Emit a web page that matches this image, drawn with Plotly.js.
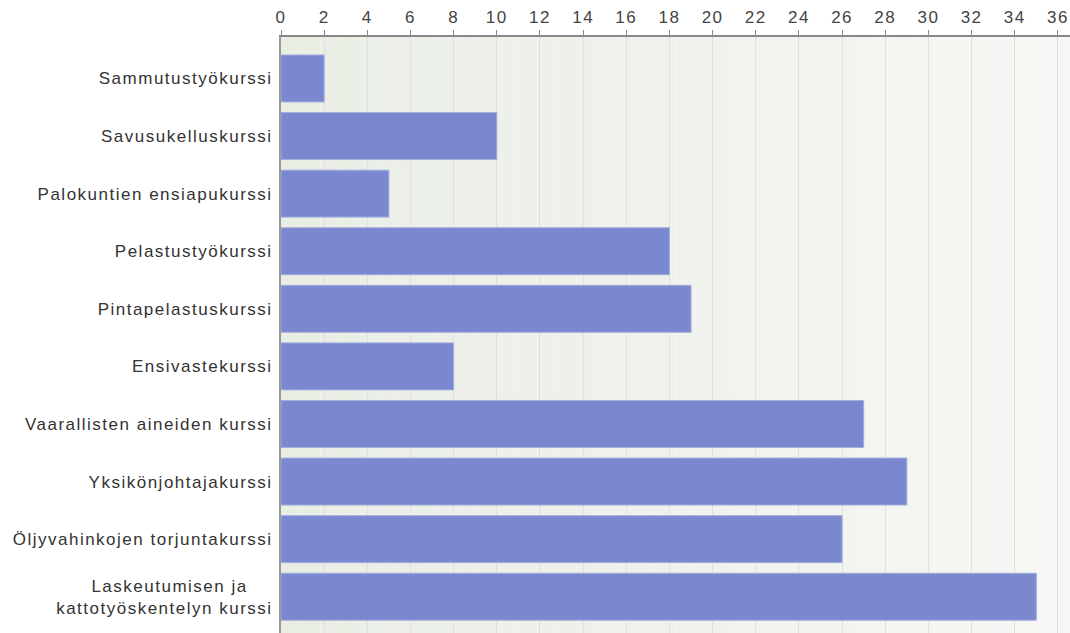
<!DOCTYPE html>
<html>
<head>
<meta charset="utf-8">
<script src="https://cdn.plot.ly/plotly-3.0.1.min.js"></script>
<style>
html,body{margin:0;padding:0;background:#fff;}
#chart{width:1070px;height:633px;}
#chart .main-svg text{letter-spacing:1.5px;}
</style>
</head>
<body>
<div id="chart"></div>
<script>
const categories = [
  "Sammutustyökurssi",
  "Savusukelluskurssi",
  "Palokuntien ensiapukurssi",
  "Pelastustyökurssi",
  "Pintapelastuskurssi",
  "Ensivastekurssi",
  "Vaarallisten aineiden kurssi",
  "Yksikönjohtajakurssi",
  "Öljyvahinkojen torjuntakurssi",
  "Laskeutumisen ja\u00a0\u00a0\u00a0\u00a0<br>kattotyöskentelyn kurssi"
];
const values = [2, 10, 5, 18, 19, 8, 27, 29, 26, 35];
const tickVals = [0,2,4,6,8,10,12,14,16,18,20,22,24,26,28,30,32,34,36];

// background gradient bands (left greener, right lighter)
const shapes = [];
const nBands = 40;
const c0 = [233, 238, 229], c1 = [246, 247, 244];
for (let i = 0; i < nBands; i++) {
  const t = i / (nBands - 1);
  const c = c0.map((v, k) => Math.round(v + (c1[k] - v) * t));
  shapes.push({
    type: 'rect', xref: 'paper', yref: 'paper', layer: 'below',
    x0: i / nBands, x1: (i + 1) / nBands, y0: 0, y1: 1,
    fillcolor: `rgb(${c[0]},${c[1]},${c[2]})`, line: {width: 0}
  });
}

const trace = {
  type: 'bar',
  orientation: 'h',
  x: values,
  y: categories.map((c, i) => i),
  marker: {color: '#7a89cf', line: {color: '#a3addf', width: 1}},
  hoverinfo: 'x'
};

const layout = {
  width: 1070, height: 633,
  margin: {l: 281, r: 0, t: 37, b: 0},
  paper_bgcolor: '#ffffff',
  plot_bgcolor: 'rgba(0,0,0,0)',
  bargap: 0.184,
  showlegend: false,
  shapes: shapes,
  font: {family: 'Liberation Sans, Arial, sans-serif', size: 17, color: '#333'},
  xaxis: {
    side: 'top', range: [0, 36.56], tickvals: tickVals,
    ticks: 'outside', ticklen: 5, tickcolor: '#888', tickwidth: 1,
    showline: true, linecolor: '#888', linewidth: 2,
    showgrid: true, gridcolor: '#dfe2dc', gridwidth: 1,
    zeroline: false, tickfont: {size: 17, color: '#444'}
  },
  yaxis: {
    range: [9.63, -0.72],
    tickvals: categories.map((c, i) => i), ticktext: categories,
    showline: true, linecolor: '#999', linewidth: 2,
    ticks: '', showgrid: false, zeroline: false,
    ticklabelstandoff: 3,
    tickfont: {size: 17, color: '#333'}
  }
};

Plotly.newPlot('chart', [trace], layout, {displayModeBar: false, staticPlot: true});
</script>
</body>
</html>
